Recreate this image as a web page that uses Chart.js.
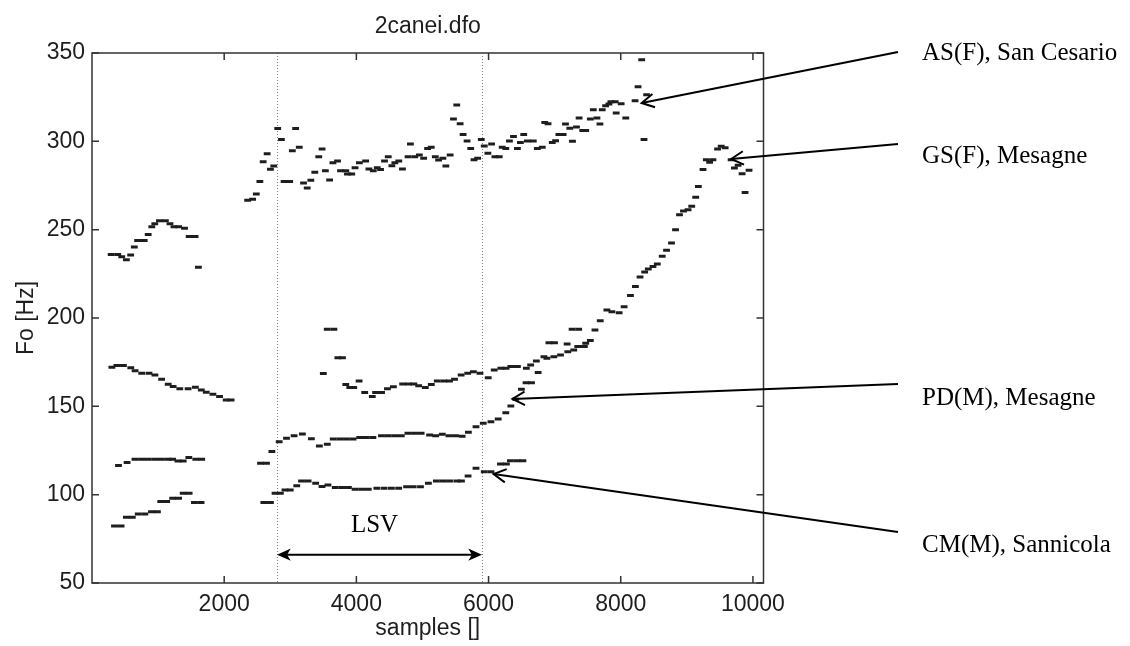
<!DOCTYPE html>
<html>
<head>
<meta charset="utf-8">
<title>2canei.dfo</title>
<script src="https://cdn.jsdelivr.net/npm/chart.js@4.4.1/dist/chart.umd.min.js"></script>
<style>
  html, body { margin: 0; padding: 0; background: #fff; }
  #wrap { width: 1130px; height: 646px; }
</style>
</head>
<body>
<div id="wrap"><canvas id="foChart" width="1130" height="646"></canvas></div>
<script>
// Fo tracks, samples on x, Hz on y
const asSamples = [290, 390, 450, 520, 585, 640, 690, 790, 850, 905, 950, 1020, 1110, 1180, 1240, 1310, 1400, 1470, 1560, 1610,
  2355, 2430, 2486, 2540, 2590, 2650, 2700, 2750, 2810, 2866, 2906, 2991, 3031, 3081, 3136, 3201, 3256, 3311, 3371, 3431,
  3481, 3531, 3595, 3645, 3715, 3760, 3840, 3865, 3930, 3980, 4046, 4140, 4190, 4256, 4316, 4366, 4426, 4482, 4537, 4582,
  4642, 4697, 4782, 4818, 4883, 4953, 5018, 5078, 5133, 5194, 5244, 5309, 5354, 5419, 5469, 5519, 5570, 5615, 5675, 5730,
  5780, 5835, 5890, 5935, 5990, 6046, 6096, 6161, 6206, 6261, 6316, 6377, 6437, 6482, 6532, 6587, 6677, 6738, 6813, 6850,
  6900, 6964, 7014, 7064, 7129, 7164, 7229, 7270, 7330, 7370, 7425, 7470, 7540, 7585, 7640, 7685, 7720, 7771, 7821, 7851,
  7916, 7931, 8006, 8076, 8217, 8262, 8317, 8352, 8392];
const asFo = [236, 236, 234.7, 233, 235.7, 240.2, 243.8, 243.8, 247.2, 251.7, 253.4, 255.1, 255.1, 253.4, 251.7, 251.7, 250.8, 246.2, 246.2, 228.7,
  266.6, 267.2, 270.2, 277.2, 288.5, 293, 284.2, 286, 307.2, 301, 277.2, 277.2, 294.7, 307.2, 296.6, 276.4, 273.6, 278, 282.5, 291.3,
  295.7, 283.4, 278.1, 287.9, 288.9, 283.4, 283.4, 281.5, 281.5, 285.1, 287.9, 288.9, 284.3, 283.4, 285.1, 284.1, 288.9, 291.3, 286.2, 287.9,
  288.9, 284.3, 291.3, 298.5, 291.3, 292.3, 290.4, 295.9, 296.6, 291.3, 289.4, 290.4, 286.0, 292.3, 312.6, 320.6, 310.0, 303.8, 300.2, 295.9,
  289.6, 290.4, 301.1, 297.4, 293.2, 298.5, 291.3, 291.3, 296.6, 295.9, 300.2, 302.8, 295.9, 299.4, 303.8, 300.2, 300.2, 295.9, 296.6, 310.7,
  310.0, 299.4, 300.4, 303.8, 303.8, 309.8, 307.4, 300.0, 308.1, 313.2, 306.2, 306.2, 312.6, 317.9, 313.2, 309.8, 317.9, 320.2, 321.1, 322.4,
  322.4, 316.0, 321.3, 313.2, 323.0, 330.9, 346.2, 301.0, 326.4];

const gsSamples = [301, 376, 476, 587, 652, 752, 862, 952, 1053, 1153, 1228, 1328, 1454, 1564, 1654, 1729, 1830, 1930, 2030, 2105,
  3500, 3559, 3660, 3720, 3790, 3840, 3900, 3960, 4041, 4126, 4241, 4291, 4381, 4470, 4560, 4700, 4790, 4870, 4943, 5043,
  5134, 5224, 5324, 5409, 5485, 5585, 5685, 5770, 5870, 5995, 6086, 6186, 6266, 6337, 6437, 6572, 6637, 6723, 6838, 6913,
  6998, 7189, 7264, 7364, 7610, 7690, 7790, 7866, 7976, 8051, 8147, 8222, 8292, 8362, 8417, 8488, 8553, 8628, 8693, 8768,
  8829, 8889, 8949, 9019, 9074, 9134, 9174, 9245, 9295, 9345, 9395, 9465, 9520, 9580, 9670, 9720, 9776, 9836, 9881, 9941];
const gsFo = [172.1, 173.1, 173.1, 171.9, 170.2, 168.7, 168.7, 167.8, 165.3, 162.5, 161.2, 159.9, 159.9, 160.8, 159.3, 158.0, 156.8, 155.5, 153.6, 153.6,
  168.6, 193.6, 193.6, 177.5, 177.5, 162.4, 160.6, 160.6, 164.3, 157.9, 155.5, 157.9, 157.9, 160.0, 161.1, 162.6, 162.6, 162.6, 161.7, 160.6,
  162.4, 164.3, 164.3, 164.3, 165.3, 167.7, 168.7, 169.6, 168.7, 166.2, 170.6, 171.5, 171.5, 172.5, 172.5, 171.5, 173.4, 175.7, 178.1, 186.0,
  186.0, 185.3, 193.6, 193.6, 193.2, 198.5, 204.5, 203.6, 203.0, 206.4, 212.8, 217.9, 223.2, 226.0, 227.7, 229.2, 230.6, 234.9, 238.3, 242.4,
  250.0, 258.5, 260.6, 261.3, 263.2, 268.3, 274.5, 284.0, 289.6, 288.1, 289.6, 295.7, 297.2, 296.4, 289.6, 284.9, 286.4, 281.7, 271.1, 283.6];

const pdSamples = [401, 531, 650, 750, 850, 950, 1050, 1150, 1220, 1300, 1380, 1465, 1570, 1660,
  2550, 2640, 2722, 2832, 2943, 3058, 3183, 3319, 3440, 3560, 3650, 3750, 3850, 3950, 4050, 4150, 4250, 4380, 4480, 4580,
  4680, 4780, 4880, 4980, 5108, 5200, 5300, 5400, 5500, 5600, 5695, 5810, 5920, 6036, 6146, 6261, 6337, 6412, 6497, 6567,
  6650, 6750, 6883, 6988, 7089, 7199, 7289, 7349, 7450, 7470, 7540];
const pdFo = [116.5, 118.2, 120, 120, 120, 120, 120, 120, 120, 119.1, 119.1, 121.0, 120, 120,
  117.8, 117.8, 124.4, 130.0, 131.9, 133.4, 134.4, 131.7, 127.6, 128.5, 131.5, 131.5, 131.5, 131.5, 132.4, 132.4, 132.4, 133.4, 133.4, 133.4,
  133.4, 134.7, 134.7, 134.7, 133.8, 133.4, 134.2, 133.4, 133.4, 133.0, 135.3, 138.5, 140.4, 141.3, 142.8, 146.4, 150.2, 154.0, 159.6, 163.4,
  163.4, 169.2, 177.2, 178.1, 179.1, 180.9, 181.9, 183.8, 183.8, 185.7, 187.2];

const cmSamples = [340, 440, 520, 610, 700, 800, 900, 990, 1040, 1130, 1220, 1310, 1380, 1470, 1550, 1650,
  2600, 2700, 2770, 2850, 2920, 3000, 3098, 3170, 3270, 3384, 3480, 3570, 3680, 3780, 3880, 3980, 4080, 4180, 4310, 4420,
  4530, 4640, 4760, 4860, 4970, 5090, 5210, 5310, 5410, 5520, 5590, 5690, 5810, 5935, 6036, 6180, 6270, 6330, 6430, 6520];
const cmFo = [82.3, 82.3, 87.2, 87.2, 89.1, 89.1, 90.4, 90.4, 96.1, 96.1, 98.0, 98.0, 100.8, 100.8, 95.5, 95.5,
  95.5, 95.5, 100.8, 100.8, 102.7, 102.7, 105.1, 107.8, 107.8, 106.5, 104.6, 105.5, 104.1, 104.1, 104.1, 103.0, 103.0, 103.0, 103.6, 103.6,
  103.6, 103.6, 104.5, 104.5, 104.5, 106.4, 107.7, 107.7, 107.7, 107.7, 107.7, 110.6, 114.9, 113.0, 113.0, 117.3, 117.3, 119.2, 119.2, 119.2];

const xTickValues = [2000, 4000, 6000, 8000, 10000];
const yTickValues = [50, 100, 150, 200, 250, 300, 350];
const lsvBounds = [2800, 5900];
const lsvLevel = 66;

const speakerNames = ['AS(F), San Cesario', 'GS(F), Mesagne', 'PD(M), Mesagne', 'CM(M), Sannicola'];
const arrowTips = [[8317, 321.7], [9671, 290], [6362, 154.2], [6076, 111.7]];

const INK = '#1e1e1e';
const AXIS_FONT = '"Liberation Sans", Arial, sans-serif';
const NOTE_FONT = '"Liberation Serif", "Times New Roman", serif';

function toPoints(xs, ys) {
    return xs.map((x, i) => ({ x: x, y: ys[i] }));
}

function openHead(ctx, tx, ty, fx, fy, len, spread) {
    const ang = Math.atan2(fy - ty, fx - tx);
    ctx.beginPath();
    ctx.moveTo(tx + Math.cos(ang + spread) * len, ty + Math.sin(ang + spread) * len);
    ctx.lineTo(tx, ty);
    ctx.lineTo(tx + Math.cos(ang - spread) * len, ty + Math.sin(ang - spread) * len);
    ctx.stroke();
}

function solidHead(ctx, tx, ty, fx, fy) {
    const ang = Math.atan2(fy - ty, fx - tx);
    const len = 15, spread = 0.42, notch = 10;
    ctx.beginPath();
    ctx.moveTo(tx, ty);
    ctx.lineTo(tx + Math.cos(ang + spread) * len, ty + Math.sin(ang + spread) * len);
    ctx.lineTo(tx + Math.cos(ang) * notch, ty + Math.sin(ang) * notch);
    ctx.lineTo(tx + Math.cos(ang - spread) * len, ty + Math.sin(ang - spread) * len);
    ctx.closePath();
    ctx.fill();
}

const figureMarks = {
    id: 'figureMarks',
    beforeDatasetsDraw(chart) {
        const { ctx, chartArea: a, scales: { x } } = chart;
        ctx.save();
        ctx.strokeStyle = '#808080';
        ctx.lineWidth = 1;
        ctx.setLineDash([1, 2]);
        lsvBounds.forEach(v => {
            const px = Math.round(x.getPixelForValue(v)) + 0.5;
            ctx.beginPath();
            ctx.moveTo(px, a.top);
            ctx.lineTo(px, a.bottom);
            ctx.stroke();
        });
        ctx.restore();
    },
    afterDraw(chart) {
        const { ctx, chartArea: a, scales: { x, y } } = chart;
        ctx.save();

        // axes box with inward ticks, matlab style
        ctx.strokeStyle = '#333';
        ctx.lineWidth = 1.5;
        ctx.strokeRect(a.left, a.top, a.right - a.left, a.bottom - a.top);
        const tick = 7;
        ctx.beginPath();
        xTickValues.forEach(v => {
            const px = x.getPixelForValue(v);
            ctx.moveTo(px, a.bottom); ctx.lineTo(px, a.bottom - tick);
            ctx.moveTo(px, a.top); ctx.lineTo(px, a.top + tick);
        });
        yTickValues.forEach(v => {
            const py = y.getPixelForValue(v);
            ctx.moveTo(a.left, py); ctx.lineTo(a.left + tick, py);
            ctx.moveTo(a.right, py); ctx.lineTo(a.right - tick, py);
        });
        ctx.stroke();

        // LSV span
        ctx.strokeStyle = '#000';
        ctx.fillStyle = '#000';
        ctx.lineWidth = 2;
        const lx1 = x.getPixelForValue(lsvBounds[0]);
        const lx2 = x.getPixelForValue(lsvBounds[1]);
        const ly = y.getPixelForValue(lsvLevel);
        ctx.beginPath();
        ctx.moveTo(lx1 + 8, ly);
        ctx.lineTo(lx2 - 8, ly);
        ctx.stroke();
        solidHead(ctx, lx1, ly, lx2, ly);
        solidHead(ctx, lx2, ly, lx1, ly);
        ctx.font = '25px ' + NOTE_FONT;
        ctx.textAlign = 'center';
        ctx.textBaseline = 'alphabetic';
        ctx.fillText('LSV', (lx1 + lx2) / 2 - 5, ly - 23);

        // speaker labels and arrows
        const labelX = 922;
        const baselines = [60, 163, 405, 552];
        const tails = [52, 144, 384, 532];
        ctx.textAlign = 'left';
        speakerNames.forEach((name, i) => {
            ctx.fillText(name, labelX, baselines[i]);
            const tx = x.getPixelForValue(arrowTips[i][0]);
            const ty = y.getPixelForValue(arrowTips[i][1]);
            ctx.beginPath();
            ctx.moveTo(898, tails[i]);
            ctx.lineTo(tx, ty);
            ctx.stroke();
            openHead(ctx, tx, ty, 898, tails[i], 14, 0.5);
        });
        ctx.restore();
    }
};

function trackSet(label, xs, ys) {
    return {
        label: label,
        data: toPoints(xs, ys),
        showLine: false,
        pointStyle: 'line',
        pointRadius: 3.4,
        pointHoverRadius: 3.4,
        pointBorderWidth: 3,
        borderColor: INK,
        backgroundColor: INK
    };
}

const ctx = document.getElementById('foChart').getContext('2d');
new Chart(ctx, {
    type: 'scatter',
    data: {
        datasets: [
            trackSet('AS(F)', asSamples, asFo),
            trackSet('GS(F)', gsSamples, gsFo),
            trackSet('PD(M)', pdSamples, pdFo),
            trackSet('CM(M)', cmSamples, cmFo)
        ]
    },
    options: {
        responsive: false,
        animation: false,
        layout: { padding: { left: 0, top: 0, right: 366.5, bottom: 0 } },
        plugins: {
            legend: { display: false },
            tooltip: { enabled: false },
            title: {
                display: true,
                text: '2canei.dfo',
                fullSize: false,
                color: INK,
                font: { family: AXIS_FONT, size: 23, weight: 'normal' },
                padding: { top: 13, bottom: 12.4 }
            }
        },
        scales: {
            x: {
                type: 'linear',
                min: 0,
                max: 10160,
                afterBuildTicks: s => { s.ticks = xTickValues.map(v => ({ value: v })); },
                afterFit: s => { s.height = 63; },
                grid: { display: false, drawTicks: false },
                border: { display: false },
                ticks: {
                    color: INK,
                    padding: 8,
                    maxRotation: 0,
                    font: { family: AXIS_FONT, size: 23 },
                    callback: v => String(v)
                },
                title: {
                    display: true,
                    text: 'samples []',
                    color: INK,
                    font: { family: AXIS_FONT, size: 23 },
                    padding: { top: 0, bottom: 4 }
                }
            },
            y: {
                type: 'linear',
                min: 50,
                max: 350,
                afterBuildTicks: s => { s.ticks = yTickValues.map(v => ({ value: v })); },
                afterFit: s => { s.width = 92; },
                grid: { display: false, drawTicks: false },
                border: { display: false },
                ticks: { color: INK, padding: 7, font: { family: AXIS_FONT, size: 23 }, callback: v => String(v) },
                title: {
                    display: true,
                    text: 'Fo [Hz]',
                    color: INK,
                    font: { family: AXIS_FONT, size: 23 },
                    padding: { top: 13, bottom: 0 }
                }
            }
        }
    },
    plugins: [figureMarks]
});
</script>
</body>
</html>
